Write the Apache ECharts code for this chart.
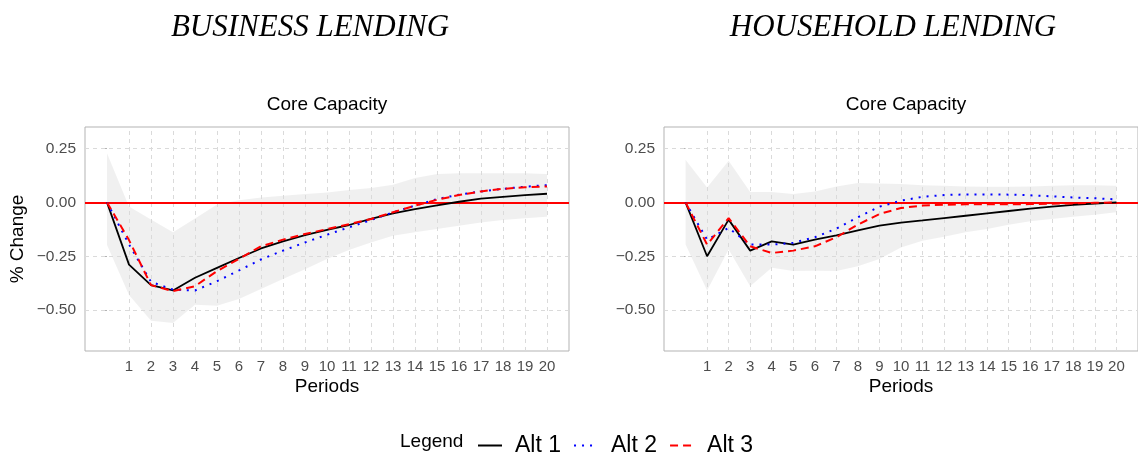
<!DOCTYPE html>
<html>
<head>
<meta charset="utf-8">
<script src="https://cdn.jsdelivr.net/npm/echarts@6/dist/echarts.min.js"></script>
<style>
  html, body { margin: 0; padding: 0; background: #fff; }
  #main { width: 1138px; height: 453px; }
</style>
</head>
<body>
<div id="main"></div>
<script>
// periods 0..20, ticks shown only for 1..20
const periods = [0, 1, 2, 3, 4, 5, 6, 7, 8, 9, 10, 11, 12, 13, 14, 15, 16, 17, 18, 19, 20];
const xTicks = [1, 2, 3, 4, 5, 6, 7, 8, 9, 10, 11, 12, 13, 14, 15, 16, 17, 18, 19, 20];
const yTicks = [-0.5, -0.25, 0, 0.25];
const yTickLabels = ['\u22120.50', '\u22120.25', '0.00', '0.25'];

// business lending
const busAlt1 = [0, -0.289, -0.384, -0.409, -0.350, -0.304, -0.258, -0.214, -0.181, -0.152, -0.128, -0.105, -0.077, -0.051, -0.031, -0.014, 0.003, 0.017, 0.026, 0.034, 0.040];
const busAlt2 = [0, -0.195, -0.369, -0.405, -0.409, -0.366, -0.316, -0.265, -0.224, -0.186, -0.150, -0.116, -0.082, -0.046, -0.015, 0.015, 0.036, 0.051, 0.063, 0.073, 0.080];
const busAlt3 = [0, -0.175, -0.384, -0.412, -0.389, -0.319, -0.262, -0.204, -0.173, -0.147, -0.124, -0.101, -0.077, -0.046, -0.015, 0.012, 0.034, 0.051, 0.063, 0.070, 0.074];
const busLower = [-0.198, -0.430, -0.550, -0.560, -0.475, -0.480, -0.449, -0.402, -0.356, -0.310, -0.263, -0.221, -0.186, -0.155, -0.139, -0.124, -0.108, -0.093, -0.082, -0.074, -0.067];
const busUpper = [0.228, -0.019, -0.080, -0.139, -0.075, -0.010, 0.010, 0.023, 0.031, 0.039, 0.046, 0.057, 0.067, 0.082, 0.113, 0.132, 0.135, 0.135, 0.135, 0.135, 0.132];

// household lending
const hhAlt1 = [0, -0.250, -0.080, -0.224, -0.181, -0.196, -0.173, -0.153, -0.130, -0.108, -0.094, -0.084, -0.073, -0.062, -0.051, -0.040, -0.029, -0.020, -0.012, -0.006, 0];
const hhAlt2 = [0, -0.173, -0.119, -0.196, -0.196, -0.188, -0.162, -0.122, -0.069, -0.020, 0.008, 0.026, 0.034, 0.037, 0.037, 0.036, 0.033, 0.028, 0.023, 0.019, 0.014];
const hhAlt3 = [0, -0.196, -0.073, -0.204, -0.235, -0.224, -0.204, -0.162, -0.103, -0.054, -0.026, -0.015, -0.011, -0.009, -0.009, -0.009, -0.008, -0.006, -0.005, -0.002, 0];
const hhLower = [-0.196, -0.409, -0.219, -0.389, -0.304, -0.319, -0.317, -0.319, -0.296, -0.263, -0.209, -0.178, -0.159, -0.139, -0.124, -0.104, -0.088, -0.077, -0.067, -0.057, -0.046];
const hhUpper = [0.198, 0.069, 0.193, 0.048, 0.048, 0.039, 0.051, 0.074, 0.090, 0.088, 0.085, 0.080, 0.077, 0.074, 0.073, 0.073, 0.074, 0.077, 0.080, 0.080, 0.077];

const panels = [
  { title: 'BUSINESS LENDING', sub: 'Core Capacity', alt1: busAlt1, alt2: busAlt2, alt3: busAlt3, lo: busLower, hi: busUpper },
  { title: 'HOUSEHOLD LENDING', sub: 'Core Capacity', alt1: hhAlt1, alt2: hhAlt2, alt3: hhAlt3, lo: hhLower, hi: hhUpper }
];

const grids = [
  { left: 85, top: 127, width: 484, height: 224 },
  { left: 664, top: 127, width: 484, height: 224 }
];

const pairs = arr => periods.map((p, i) => [p, arr[i]]);
const sansFont = '"Liberation Sans", Arial, sans-serif';

const xAxes = [], yAxes = [], series = [], graphics = [];

panels.forEach((pn, k) => {
  const g = grids[k];
  xAxes.push({
    type: 'value', gridIndex: k, min: -1, max: 21,
    name: 'Periods', nameLocation: 'middle', nameGap: 26,
    nameTextStyle: { fontSize: 19, color: '#000', fontFamily: sansFont },
    axisLine: { show: false },
    axisTick: { show: true, length: 4, customValues: xTicks, lineStyle: { color: '#b3b3b3' } },
    axisLabel: { customValues: xTicks, fontSize: 15, color: '#4d4d4d', margin: 8, fontFamily: sansFont },
    splitLine: { show: false }
  });
  yAxes.push({
    type: 'value', gridIndex: k, min: -0.69, max: 0.35,
    name: k === 0 ? '% Change' : '', nameLocation: 'middle', nameGap: 58,
    nameTextStyle: { fontSize: 19, color: '#000', fontFamily: sansFont },
    axisLine: { show: false },
    axisTick: { show: true, length: 4, customValues: yTicks, lineStyle: { color: '#b3b3b3' } },
    axisLabel: {
      customValues: yTicks, fontSize: 15.5, color: '#4d4d4d', margin: 9, fontFamily: sansFont,
      formatter: v => yTickLabels[yTicks.findIndex(t => Math.abs(t - v) < 1e-9)]
    },
    splitLine: { show: false }
  });

  const gridLines = xTicks.map(v => ({ xAxis: v })).concat(yTicks.map(v => ({ yAxis: v })));

  // invisible holder for the dashed grid lines
  series.push({
    name: 'grid' + k, type: 'line', xAxisIndex: k, yAxisIndex: k,
    data: pairs(pn.lo), symbol: 'none', silent: true,
    lineStyle: { opacity: 0 },
    markLine: {
      silent: true, symbol: 'none', label: { show: false },
      lineStyle: { color: '#dadada', type: [4, 4], width: 1 },
      data: gridLines
    }
  });

  // confidence ribbon
  series.push({
    name: 'band' + k, type: 'custom', xAxisIndex: k, yAxisIndex: k,
    silent: true, clip: true,
    data: [[0]],
    renderItem: (params, api) => {
      const up = periods.map((p, i) => api.coord([p, pn.hi[i]]));
      const dn = periods.map((p, i) => api.coord([p, pn.lo[i]])).reverse();
      return {
        type: 'polygon',
        shape: { points: up.concat(dn) },
        style: { fill: 'rgba(0,0,0,0.06)' }
      };
    }
  });

  series.push({
    name: 'Alt 1', type: 'line', xAxisIndex: k, yAxisIndex: k, data: pairs(pn.alt1),
    symbol: 'none', lineStyle: { color: '#000', width: 1.8 }, itemStyle: { color: '#000' }, z: 5,
    markLine: {
      silent: true, symbol: 'none', label: { show: false },
      lineStyle: { color: '#ff0000', type: 'solid', width: 2 },
      data: [{ yAxis: 0 }]
    }
  });
  series.push({
    name: 'Alt 2', type: 'line', xAxisIndex: k, yAxisIndex: k, data: pairs(pn.alt2),
    symbol: 'none', lineStyle: { color: '#0000ff', width: 2, type: [2, 6] }, itemStyle: { color: '#0000ff' }, z: 5
  });
  series.push({
    name: 'Alt 3', type: 'line', xAxisIndex: k, yAxisIndex: k, data: pairs(pn.alt3),
    symbol: 'none', lineStyle: { color: '#ff0000', width: 2, type: [8, 5] }, itemStyle: { color: '#ff0000' }, z: 5
  });

  const cx = g.left + g.width / 2;
  graphics.push({
    type: 'text', x: k === 0 ? 310 : 893, y: 28,
    style: { text: pn.title, font: 'italic 31px "Liberation Serif", serif', fill: '#000',
             textAlign: 'center', textVerticalAlign: 'middle', align: 'center', verticalAlign: 'middle' }
  });
  graphics.push({
    type: 'text', x: cx, y: 105,
    style: { text: pn.sub, font: '19px ' + sansFont, fill: '#000',
             textAlign: 'center', textVerticalAlign: 'middle', align: 'center', verticalAlign: 'middle' }
  });
});

graphics.push({
  type: 'text', x: 400, y: 442,
  style: { text: 'Legend', font: '19px ' + sansFont, fill: '#000',
           textAlign: 'left', textVerticalAlign: 'middle', align: 'left', verticalAlign: 'middle' }
});

const option = {
  backgroundColor: '#fff',
  animation: false,
  grid: grids.map(g => Object.assign({ show: true, borderColor: '#b3b3b3', borderWidth: 1, backgroundColor: '#fff' }, g)),
  xAxis: xAxes,
  yAxis: yAxes,
  legend: {
    data: ['Alt 1', 'Alt 2', 'Alt 3'],
    left: 472, top: 429,
    itemWidth: 24, itemHeight: 14, itemGap: 12,
    itemStyle: { opacity: 0 },
    textStyle: { fontSize: 23, color: '#000', fontFamily: sansFont, padding: [0, 0, 0, 8] }
  },
  graphic: graphics,
  series: series
};

const myChart = echarts.init(document.getElementById('main'));
myChart.setOption(option);
</script>
</body>
</html>
